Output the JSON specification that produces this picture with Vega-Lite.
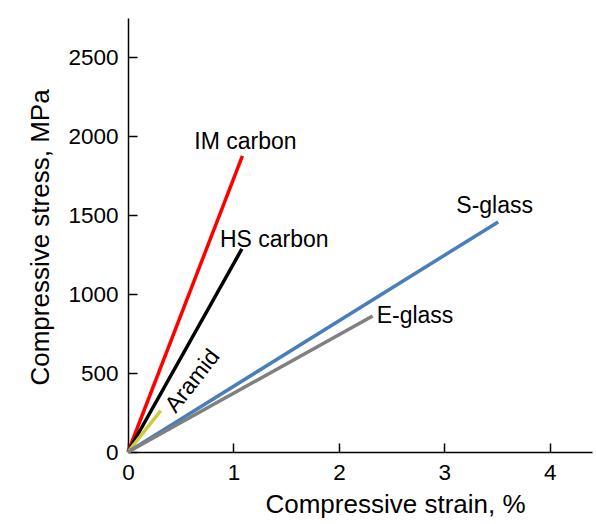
{
  "$schema": "https://vega.github.io/schema/vega-lite/v6.json",
  "width": 464,
  "height": 434,
  "autosize": {"type": "none"},
  "padding": {"left": 128, "top": 18, "right": 4, "bottom": 72},
  "background": "white",
  "config": {
    "view": {"stroke": null},
    "font": "Liberation Sans",
    "axis": {
      "grid": false,
      "domainColor": "#000000",
      "domainWidth": 1.5,
      "tickColor": "#000000",
      "tickWidth": 1.5,
      "tickSize": -9,
      "labelColor": "#000000",
      "labelFontSize": 22.5,
      "labelFlush": false,
      "labelFont": "Liberation Sans",
      "titleColor": "#000000",
      "titleFontSize": 26,
      "titleFontWeight": "normal",
      "titleFont": "Liberation Sans"
    }
  },
  "data": {
    "values": [
      {"material": "IM carbon", "strain": 0, "stress": 0},
      {"material": "IM carbon", "strain": 1.085, "stress": 1876},
      {"material": "HS carbon", "strain": 0, "stress": 0},
      {"material": "HS carbon", "strain": 1.08, "stress": 1287},
      {"material": "Aramid", "strain": 0, "stress": 0},
      {"material": "Aramid", "strain": 0.31, "stress": 262},
      {"material": "S-glass", "strain": 0, "stress": 0},
      {"material": "S-glass", "strain": 3.51, "stress": 1458},
      {"material": "E-glass", "strain": 0, "stress": 0},
      {"material": "E-glass", "strain": 2.32, "stress": 862}
    ]
  },
  "encoding": {
    "x": {
      "field": "strain",
      "type": "quantitative",
      "scale": {"domain": [0, 4.4], "nice": false, "zero": true},
      "axis": {
        "title": "Compressive strain, %",
        "values": [0, 1, 2, 3, 4],
        "format": "d",
        "labelPadding": 18,
        "titleX": 267,
        "titleY": 60,
        "titleAlign": "center",
        "titleBaseline": "alphabetic"
      }
    },
    "y": {
      "field": "stress",
      "type": "quantitative",
      "scale": {"domain": [0, 2750], "nice": false},
      "axis": {
        "title": "Compressive stress, MPa",
        "values": [0, 500, 1000, 1500, 2000, 2500],
        "format": "d",
        "labelPadding": 19,
        "titleX": -88,
        "titleY": 219,
        "titleAlign": "center",
        "titleBaseline": "middle"
      }
    }
  },
  "layer": [
    {
      "mark": {"type": "line", "strokeWidth": 3.5, "clip": false},
      "encoding": {
        "color": {
          "field": "material",
          "type": "nominal",
          "scale": {
            "domain": ["IM carbon", "HS carbon", "Aramid", "S-glass", "E-glass"],
            "range": ["#ff0000", "#000000", "#cccc3c", "#4a7ebb", "#808080"]
          },
          "legend": null
        }
      }
    },
    {
      "transform": [{"filter": "datum.material == 'IM carbon' && datum.strain > 0"}],
      "mark": {"type": "text", "fontSize": 23, "align": "center", "baseline": "alphabetic", "dx": 3, "dy": -7, "color": "#000000"},
      "encoding": {"text": {"field": "material"}}
    },
    {
      "transform": [{"filter": "datum.material == 'HS carbon' && datum.strain > 0"}],
      "mark": {"type": "text", "fontSize": 23, "align": "left", "baseline": "alphabetic", "dx": -22, "dy": -2, "color": "#000000"},
      "encoding": {"text": {"field": "material"}}
    },
    {
      "transform": [{"filter": "datum.material == 'S-glass' && datum.strain > 0"}],
      "mark": {"type": "text", "fontSize": 23, "align": "center", "baseline": "alphabetic", "dx": -3.5, "dy": -9, "color": "#000000"},
      "encoding": {"text": {"field": "material"}}
    },
    {
      "transform": [{"filter": "datum.material == 'E-glass' && datum.strain > 0"}],
      "mark": {"type": "text", "fontSize": 23, "align": "left", "baseline": "alphabetic", "dx": 4, "dy": 7, "color": "#000000"},
      "encoding": {"text": {"field": "material"}}
    },
    {
      "transform": [{"filter": "datum.material == 'Aramid' && datum.strain > 0"}],
      "mark": {"type": "text", "fontSize": 23, "align": "center", "baseline": "middle", "angle": 308, "dx": 43, "dy": 7, "color": "#000000"},
      "encoding": {"text": {"field": "material"}}
    }
  ]
}
